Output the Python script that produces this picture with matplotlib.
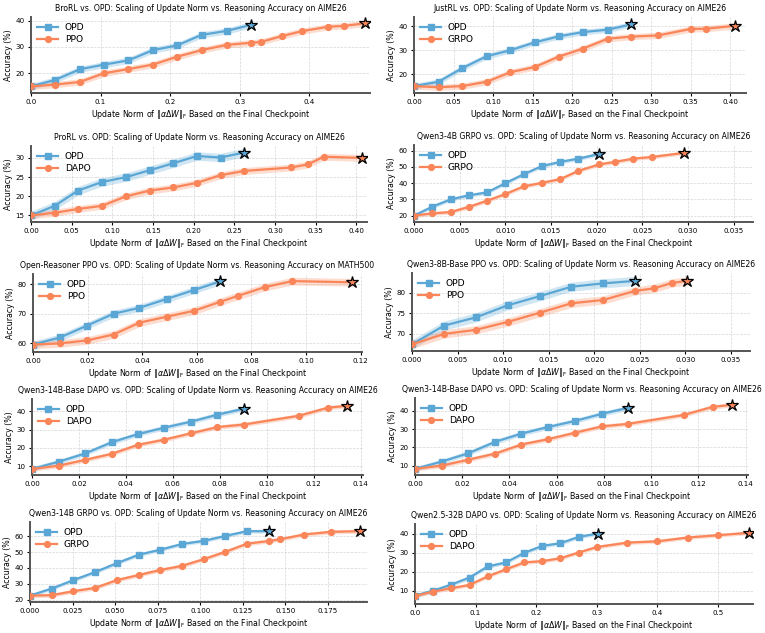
import numpy as np
import matplotlib
matplotlib.use("Agg")
import matplotlib.pyplot as plt
from matplotlib.ticker import MultipleLocator

# ---- data ----
# BroRL (AIME26)
bro_x_opd = [0, 0.035, 0.07, 0.105, 0.14, 0.175, 0.21, 0.245, 0.281, 0.316]
bro_y_opd = [15, 17.5, 21.5, 23.3, 24.9, 28.8, 30.6, 34.6, 36.1, 38.4]
bro_x_rl = [0, 0.035, 0.07, 0.105, 0.14, 0.175, 0.21, 0.245, 0.281, 0.316, 0.33, 0.36, 0.389, 0.427, 0.449, 0.48]
bro_y_rl = [15, 15.7, 16.7, 20, 21.6, 23.3, 26.3, 28.8, 30.8, 31.6, 31.9, 34.1, 36, 37.7, 38, 39]

# JustRL (AIME26)
just_x_opd = [0, 0.031, 0.061, 0.092, 0.122, 0.153, 0.183, 0.214, 0.245, 0.275]
just_y_opd = [15, 16.8, 22.5, 27.5, 30, 33.3, 35.8, 37.6, 38.6, 40.8]
just_x_rl = [0, 0.031, 0.061, 0.092, 0.122, 0.153, 0.183, 0.214, 0.245, 0.275, 0.309, 0.35, 0.369, 0.406]
just_y_rl = [15, 14.5, 15, 16.8, 20.8, 23, 27.3, 30.7, 34.8, 35.7, 36.2, 38.9, 39, 40.2]

# ProRL (AIME26)
pro_x_opd = [0, 0.029, 0.058, 0.087, 0.117, 0.146, 0.175, 0.204, 0.233, 0.262]
pro_y_opd = [15, 17.5, 21.5, 23.7, 25, 26.8, 28.6, 30.5, 30.1, 31.4]
pro_x_rl = [0, 0.029, 0.058, 0.087, 0.117, 0.146, 0.175, 0.204, 0.233, 0.262, 0.32, 0.34, 0.36, 0.407]
pro_y_rl = [15, 15.7, 16.7, 17.5, 20, 21.5, 22.3, 23.5, 25.5, 26.6, 27.5, 28.3, 30.3, 30]

# Qwen3-4B GRPO (AIME26)
q4_x_opd = [0, 0.002, 0.004, 0.006, 0.008, 0.010, 0.012, 0.014, 0.016, 0.018, 0.0203]
q4_y_opd = [20, 25.5, 30, 32.5, 34.3, 40, 45.5, 50.5, 53.1, 55.1, 58]
q4_x_rl = [0, 0.002, 0.004, 0.006, 0.008, 0.010, 0.012, 0.014, 0.016, 0.018, 0.0203, 0.022, 0.024, 0.026, 0.0295]
q4_y_rl = [20, 21.4, 22.2, 25.4, 29.2, 33.3, 38, 40.2, 42.5, 47.6, 51.6, 53.1, 55.1, 56.1, 58.6]

# Open-Reasoner PPO (MATH500)
orz_x_opd = [0, 0.0099, 0.0198, 0.0295, 0.039, 0.049, 0.059, 0.0685]
orz_y_opd = [59.6, 62, 66, 70, 72, 75, 78, 80.9]
orz_x_rl = [0, 0.0099, 0.0198, 0.0295, 0.039, 0.049, 0.059, 0.0685, 0.075, 0.085, 0.095, 0.117]
orz_y_rl = [59.6, 60, 61, 63, 67, 69, 71, 74, 76, 79, 81, 80.6]

# Qwen3-8B-Base PPO (AIME26)
q8_x_opd = [0, 0.0035, 0.007, 0.0105, 0.014, 0.0175, 0.021, 0.0245]
q8_y_opd = [67.5, 72, 74, 76.9, 79.1, 81.4, 82.2, 82.8]
q8_x_rl = [0, 0.0035, 0.007, 0.0105, 0.014, 0.0175, 0.021, 0.0245, 0.0266, 0.0285, 0.0302]
q8_y_rl = [67.5, 70, 71, 72.9, 75.1, 77.4, 78.2, 80.4, 81, 82.3, 82.8]

# Qwen3-14B-Base DAPO (AIME26)
q14b_x_opd = [0, 0.0114, 0.0226, 0.034, 0.045, 0.0564, 0.0678, 0.079, 0.0903]
q14b_y_opd = [8.4, 12.4, 16.9, 23.1, 27.5, 31.1, 34.4, 38.2, 41.5]
q14b_x_rl = [0, 0.0114, 0.0226, 0.034, 0.045, 0.0564, 0.0678, 0.079, 0.0903, 0.1137, 0.126, 0.1343]
q14b_y_rl = [8.4, 10.2, 13.4, 16.7, 21.6, 24.5, 28, 31.4, 32.8, 37.6, 42, 43.1]

# Qwen3-14B GRPO (AIME26)
q14_x_opd = [0, 0.0128, 0.0255, 0.0383, 0.051, 0.0638, 0.0765, 0.0893, 0.102, 0.1148, 0.1275, 0.1403]
q14_y_opd = [22.5, 27, 32.3, 37.4, 43, 48.3, 51.5, 55.1, 57.1, 60.2, 63.2, 63.2]
q14_x_rl = [0, 0.0128, 0.0255, 0.0383, 0.051, 0.0638, 0.0765, 0.0893, 0.102, 0.1148, 0.1275, 0.1403, 0.147, 0.161, 0.177, 0.194]
q14_y_rl = [22.5, 22.8, 25.3, 27.4, 32.3, 35.5, 38.7, 41.3, 45.5, 50.2, 55.3, 57, 58.1, 61.1, 62.8, 63.2]

# Qwen2.5-32B DAPO (AIME26)
q32_x_opd = [0, 0.03, 0.06, 0.09, 0.12, 0.15, 0.18, 0.21, 0.24, 0.27, 0.302]
q32_y_opd = [7.4, 10, 13.2, 16.9, 22.7, 24.8, 29.8, 33.5, 34.9, 38.2, 40]
q32_x_rl = [0, 0.03, 0.06, 0.09, 0.12, 0.15, 0.18, 0.21, 0.24, 0.27, 0.30, 0.35, 0.40, 0.45, 0.50, 0.552]
q32_y_rl = [7.2, 9.5, 11.3, 13, 17.5, 21.2, 24.8, 25.5, 27, 30, 32.9, 35.2, 35.9, 37.9, 39.1, 40.4]

titles = [
    "BroRL vs. OPD: Scaling of Update Norm vs. Reasoning Accuracy on AIME26",
    "JustRL vs. OPD: Scaling of Update Norm vs. Reasoning Accuracy on AIME26",
    "ProRL vs. OPD: Scaling of Update Norm vs. Reasoning Accuracy on AIME26",
    "Qwen3-4B GRPO vs. OPD: Scaling of Update Norm vs. Reasoning Accuracy on AIME26",
    "Open-Reasoner PPO vs. OPD: Scaling of Update Norm vs. Reasoning Accuracy on MATH500",
    "Qwen3-8B-Base PPO vs. OPD: Scaling of Update Norm vs. Reasoning Accuracy on AIME26",
    "Qwen3-14B-Base DAPO vs. OPD: Scaling of Update Norm vs. Reasoning Accuracy on AIME26",
    "Qwen3-14B-Base DAPO vs. OPD: Scaling of Update Norm vs. Reasoning Accuracy on AIME26",
    "Qwen3-14B GRPO vs. OPD: Scaling of Update Norm vs. Reasoning Accuracy on AIME26",
    "Qwen2.5-32B DAPO vs. OPD: Scaling of Update Norm vs. Reasoning Accuracy on AIME26",
]
rl_names = ["PPO", "GRPO", "DAPO", "GRPO", "PPO", "PPO", "DAPO", "DAPO", "GRPO", "DAPO"]

panels = [
    (bro_x_opd, bro_y_opd, bro_x_rl, bro_y_rl),
    (just_x_opd, just_y_opd, just_x_rl, just_y_rl),
    (pro_x_opd, pro_y_opd, pro_x_rl, pro_y_rl),
    (q4_x_opd, q4_y_opd, q4_x_rl, q4_y_rl),
    (orz_x_opd, orz_y_opd, orz_x_rl, orz_y_rl),
    (q8_x_opd, q8_y_opd, q8_x_rl, q8_y_rl),
    (q14b_x_opd, q14b_y_opd, q14b_x_rl, q14b_y_rl),
    (q14b_x_opd, q14b_y_opd, q14b_x_rl, q14b_y_rl),
    (q14_x_opd, q14_y_opd, q14_x_rl, q14_y_rl),
    (q32_x_opd, q32_y_opd, q32_x_rl, q32_y_rl),
]
band_opd = [1.2, 1.2, 1.1, 1.2, 1.2, 1.1, 1.3, 1.3, 1.2, 1.0]
band_rl = [1.2, 1.3, 0.9, 1.2, 1.3, 1.0, 1.2, 1.2, 1.3, 1.0]

xlims = [0.487, 0.42, 0.413, 0.0371, 0.1205, 0.0371, 0.141, 0.141, 0.198, 0.558]
ylims = [(12.5, 41.4), (12.1, 43.9), (13.3, 33.1), (16.1, 63.5), (57.1, 83.4),
         (65.9, 84.7), (5.1, 46.8), (5.1, 46.8), (18.5, 69.0), (3.0, 45.0)]
ysteps = [10, 10, 5, 10, 10, 5, 10, 10, 10, 10]

# axes boxes in pixels: left, top, right, bottom
boxes = [(31, 17, 370, 93), (414, 17, 746, 93),
         (31, 146, 367, 222), (414, 145, 753, 222),
         (33, 274, 362, 352), (412, 273, 750, 351),
         (32, 399, 363, 475), (415, 398, 748, 475),
         (30, 522, 367, 602), (415, 524, 753, 604)]

blue = "#5aa7d6"
orange = "#fa8559"
W, H = 765, 633

plt.rcParams["font.family"] = "DejaVu Sans"
fig = plt.figure(figsize=(W / 100, H / 100), dpi=100)

for i, (xo, yo, xr, yr) in enumerate(panels):
    l, t, r, b = boxes[i]
    ax = fig.add_axes([l / W, 1 - b / H, (r - l) / W, (b - t) / H])
    for xs, ys, c, mk, lab, bw in [(xo, yo, blue, "s", "OPD", band_opd[i]),
                                   (xr, yr, orange, "o", rl_names[i], band_rl[i])]:
        xs = np.array(xs)
        ys = np.array(ys)
        ax.fill_between(xs, ys - bw, ys + bw, color=c, alpha=0.28, lw=0)
        ax.plot(xs, ys, color=c, lw=1.6, marker=mk, ms=4.2,
                markevery=list(range(len(xs) - 1)), label=lab, zorder=3)
        ax.plot(xs[-1], ys[-1], marker="*", ms=9, color=c, mec="black", mew=0.9, zorder=4)
    ax.set_xlim(0, xlims[i])
    ax.set_ylim(*ylims[i])
    ax.yaxis.set_major_locator(MultipleLocator(ysteps[i]))
    ax.set_title(titles[i], fontsize=5.6, pad=4)
    ax.set_xlabel(r"Update Norm of $\|\alpha\Delta W\|_{\mathrm{F}}$ Based on the Final Checkpoint",
                  fontsize=5.7, labelpad=2)
    ax.set_ylabel("Accuracy (%)", fontsize=5.7, labelpad=2)
    ax.tick_params(labelsize=5.1, length=2.5, width=0.8, pad=2)
    ax.grid(True, linestyle="--", color="#cccccc", lw=0.5, alpha=0.8)
    ax.set_axisbelow(True)
    for s in ["top", "right"]:
        ax.spines[s].set_visible(False)
    for s in ["left", "bottom"]:
        ax.spines[s].set_color("#555555")
        ax.spines[s].set_linewidth(1.4)
    ax.legend(loc="upper left", frameon=False, fontsize=6.6, handlelength=2.2,
              borderaxespad=0.3, labelspacing=0.3)

fig.savefig("out.png", dpi=100)
